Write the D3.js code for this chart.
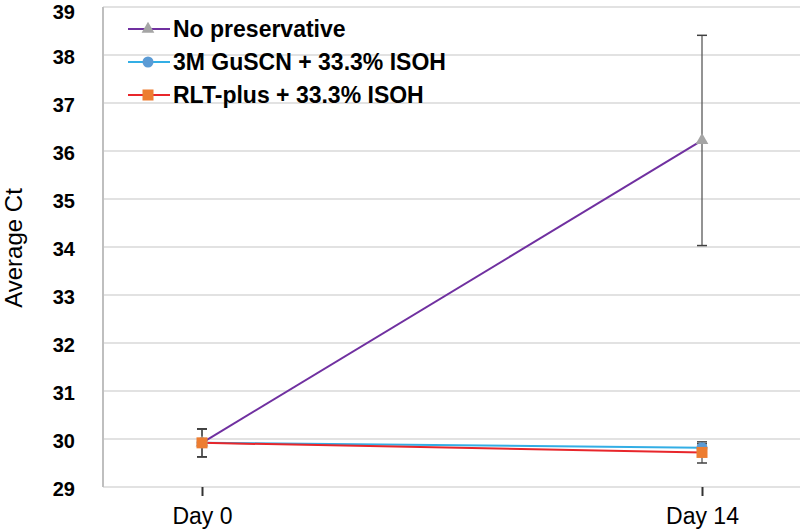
<!DOCTYPE html>
<html>
<head>
<meta charset="utf-8">
<script src="https://cdn.jsdelivr.net/npm/d3@7"></script>
<style>
  html, body { margin: 0; padding: 0; background: #fff; }
  svg { display: block; font-family: "Liberation Sans", Arial, sans-serif; }
</style>
</head>
<body>
<svg id="chart" width="800" height="531"></svg>
<script>
// ---- data ----
const categories = ["Day 0", "Day 14"];
const seriesNames = ["No preservative", "3M GuSCN + 33.3% ISOH", "RLT-plus + 33.3% ISOH"];
const noPreservative = [29.92, 36.22];
const noPreservativeErr = [0.29, 2.19];
const guscn = [29.92, 29.82];
const guscnErr = [0.29, 0.08];
const rltPlus = [29.92, 29.72];
const rltPlusErr = [0.29, 0.22];
const yTicks = [29, 30, 31, 32, 33, 34, 35, 36, 37, 38, 39];

// ---- styles ----
const styles = [
  { line: "#7030A0", marker: "#A5A5A5", shape: "triangle" },
  { line: "#33AEE5", marker: "#5B9BD5", shape: "circle" },
  { line: "#E8262B", marker: "#ED7D31", shape: "square" }
];

const series = [
  { name: seriesNames[0], values: noPreservative, err: noPreservativeErr, style: styles[0] },
  { name: seriesNames[1], values: guscn, err: guscnErr, style: styles[1] },
  { name: seriesNames[2], values: rltPlus, err: rltPlusErr, style: styles[2] }
];

const svg = d3.select("#chart");
const plotLeft = 103, plotRight = 800, plotTop = 7, plotBottom = 487;

const x = d3.scalePoint().domain(categories).range([202, 702]);
const y = d3.scaleLinear().domain([29, 39]).range([plotBottom, plotTop]);

// gridlines
svg.append("g").selectAll("line").data(yTicks).join("line")
  .attr("x1", plotLeft).attr("x2", plotRight)
  .attr("y1", d => y(d)).attr("y2", d => y(d))
  .attr("stroke", "#D9D9D9").attr("stroke-width", 1.5);

// left axis line
svg.append("line")
  .attr("x1", plotLeft).attr("x2", plotLeft)
  .attr("y1", y(39)).attr("y2", y(29))
  .attr("stroke", "#BFBFBF").attr("stroke-width", 2);

// y tick labels
const yAxis = d3.axisLeft(y).tickValues(yTicks).tickSize(0).tickPadding(0).tickFormat(d3.format("d"));
const yg = svg.append("g").attr("transform", "translate(75,0)").call(yAxis);
yg.select(".domain").remove();
yg.selectAll("text")
  .attr("font-family", "'Liberation Sans', Arial, sans-serif")
  .attr("font-size", 20).attr("font-weight", "bold").attr("fill", "#000")
  .attr("dy", d => d === 39 ? "0.56em" : "0.42em");

// x axis ticks + labels
const xAxis = d3.axisBottom(x).tickSize(9).tickPadding(12);
const xg = svg.append("g").attr("transform", `translate(0,${plotBottom})`).call(xAxis);
xg.select(".domain").remove();
xg.selectAll(".tick line").attr("stroke", "#333").attr("stroke-width", 2);
xg.selectAll("text")
  .attr("font-family", "'Liberation Sans', Arial, sans-serif")
  .attr("font-size", 23).attr("fill", "#000");

// y axis title
svg.append("text")
  .attr("transform", "translate(22,248) rotate(-90)")
  .attr("text-anchor", "middle")
  .attr("font-size", 24).attr("fill", "#000")
  .text("Average Ct");

// lines
const line = d3.line().x((d, i) => x(categories[i])).y(d => y(d));
svg.append("g").selectAll("path").data(series).join("path")
  .attr("d", s => line(s.values))
  .attr("fill", "none")
  .attr("stroke", s => s.style.line)
  .attr("stroke-width", 2);

// error bars
const eg = svg.append("g");
series.forEach(s => {
  s.values.forEach((v, i) => {
    const cx = x(categories[i]);
    const top = y(v + s.err[i]), bot = y(v - s.err[i]);
    eg.append("line").attr("x1", cx).attr("x2", cx).attr("y1", top).attr("y2", bot)
      .attr("stroke", "#595959").attr("stroke-width", 1.3);
    [top, bot].forEach(yy => eg.append("line")
      .attr("x1", cx - 5).attr("x2", cx + 5).attr("y1", yy).attr("y2", yy)
      .attr("stroke", "#404040").attr("stroke-width", 1.5));
  });
});

// markers
function drawMarker(g, shape, cx, cy, color) {
  if (shape === "triangle") {
    g.append("path")
      .attr("d", d3.symbol().type(d3.symbolTriangle).size(70)())
      .attr("transform", `translate(${cx},${cy})`).attr("fill", color);
  } else if (shape === "circle") {
    g.append("circle").attr("cx", cx).attr("cy", cy).attr("r", 5.5).attr("fill", color);
  } else {
    g.append("rect").attr("x", cx - 5.5).attr("y", cy - 5.5).attr("width", 11).attr("height", 11).attr("fill", color);
  }
}
const mg = svg.append("g");
series.forEach(s => {
  s.values.forEach((v, i) => drawMarker(mg, s.style.shape, x(categories[i]), y(v), s.style.marker));
});

// legend
const legendRows = [29, 62, 95];
const lg = svg.append("g");
series.forEach((s, i) => {
  const cy = legendRows[i];
  lg.append("line").attr("x1", 128).attr("x2", 170).attr("y1", cy).attr("y2", cy)
    .attr("stroke", s.style.line).attr("stroke-width", 2);
  drawMarker(lg, s.style.shape, 148, cy, s.style.marker);
  lg.append("text").attr("x", 173).attr("y", cy).attr("dy", "0.36em")
    .attr("font-size", 23).attr("font-weight", "bold").attr("fill", "#000")
    .text(s.name);
});
</script>
</body>
</html>
